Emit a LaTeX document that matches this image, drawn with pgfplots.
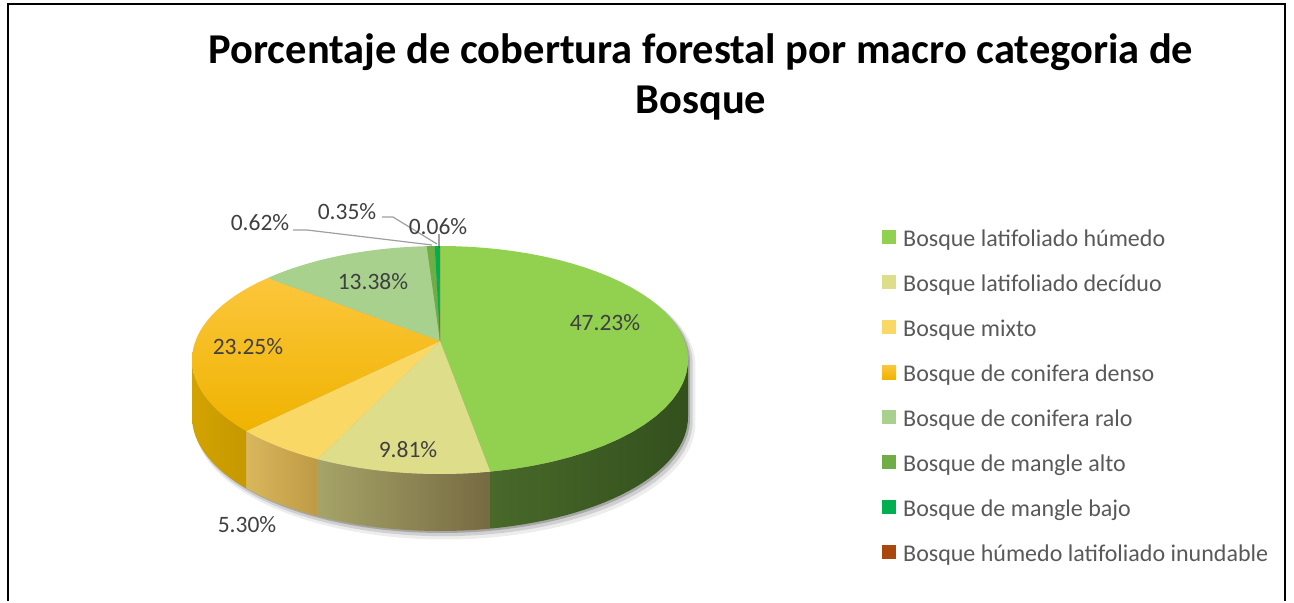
\documentclass[border=0pt]{standalone}
\usepackage{pgfplots}
\pgfplotsset{compat=1.18}
\usepackage{pgfplotstable}
\usepackage{fontspec}
\setmainfont{Carlito}

\definecolor{cA}{HTML}{92D050}
\definecolor{cB}{HTML}{DEDE8A}
\definecolor{cC}{HTML}{FAD866}
\definecolor{cD}{HTML}{FFC000}
\definecolor{cDt}{HTML}{FCC63C}
\definecolor{cDb}{HTML}{EFB300}
\definecolor{cE}{HTML}{A9D18E}
\definecolor{cF}{HTML}{70AD47}
\definecolor{cG}{HTML}{00B050}
\definecolor{cH}{HTML}{A9470F}
\definecolor{wAl}{HTML}{48692A}
\definecolor{wAr}{HTML}{33501D}
\definecolor{wBl}{HTML}{A6A468}
\definecolor{wBr}{HTML}{766A42}
\definecolor{wCl}{HTML}{D9B75C}
\definecolor{wCr}{HTML}{BF9A45}
\definecolor{wDl}{HTML}{D2A300}
\definecolor{wDr}{HTML}{C79800}
\definecolor{lbl}{HTML}{404040}
\definecolor{lgd}{HTML}{595959}

% percentages per category (legend order)
\pgfplotstableread{
val
47.23
9.81
5.30
23.25
13.38
0.62
0.35
0.06
}\piedata

% cumulative angles, starting at 12 o'clock, clockwise
\def\acc{90}
\expandafter\xdef\csname ang0\endcsname{90}
\pgfplotsforeachungrouped \i in {0,...,7}{%
  \pgfplotstablegetelem{\i}{val}\of\piedata
  \pgfmathsetmacro\nextacc{\acc-3.6*\pgfplotsretval}%
  \xdef\acc{\nextacc}%
  \pgfmathtruncatemacro\j{\i+1}%
  \expandafter\xdef\csname ang\j\endcsname{\acc}%
}
\newcommand\A[1]{\csname ang#1\endcsname}

\def\cx{440}\def\cy{360}\def\rx{248}\def\ry{114}
\def\apx{440}\def\apy{341}\def\dep{57}
% perspective warp of a rim angle
\pgfmathdeclarefunction{W}{1}{\pgfmathparse{#1+10*cos(#1)}}

% top face of a slice from angle #1 to #2
\newcommand\slicetop[3]{%
  \addplot[#3, draw=none, variable=\t, samples at={-1,0,0.025,...,1}]
   ({\t<0 ? \apx : \cx+\rx*cos(W(#1+\t*(#2-#1)))},
    {\t<0 ? \apy : \cy-\ry*sin(W(#1+\t*(#2-#1)))});
}
% front wall of a slice from angle #1 to #2
\newcommand\slicewall[3]{%
  \addplot[#3, draw=none, forget plot, variable=\t, domain=0:3, samples=91]
   ({\cx+\rx*cos(W(\t<=1 ? #1+\t*(#2-#1) : (\t<2 ? #2 : #2-(\t-2)*(#2-#1))))},
    {\cy-\ry*sin(W(\t<=1 ? #1+\t*(#2-#1) : (\t<2 ? #2 : #2-(\t-2)*(#2-#1))))
      + (\t<=1 ? 0 : (\t<2 ? (\t-1)*\dep : \dep))});
}
% shadow of the cylinder silhouette: shift x, shift y, grow, opacity
\newcommand\pieshadow[4]{%
  \addplot[forget plot, draw=none, fill=black, fill opacity=#4, variable=\t, domain=0.5:359.5, samples=180]
   ({\cx+#1+(\rx+#3)*cos(\t)}, {\cy+#2-(\ry+#3)*sin(\t)+(\t>180 ? \dep : 0)});
}

\begin{document}
\begin{tikzpicture}
\begin{axis}[
  scale only axis, width=1294pt, height=601pt,
  xmin=0, xmax=1294, ymin=0, ymax=601, y dir=reverse,
  hide axis, clip=false,
  legend image code/.code={\fill[#1] (0pt,0pt) rectangle (14pt,14pt);},
  legend cell align=left,
  legend style={at={(axis cs:882,230)}, anchor=north west, draw=none, fill=none,
    inner sep=0pt, row sep=26.4pt, text=lgd,
    font=\fontsize{24}{28}\selectfont,
    nodes={inner sep=0pt, text height=0.72em, text depth=0.2em},
    /tikz/every odd column/.append style={column sep=7pt}},
]
\path (axis cs:0,0) rectangle (axis cs:1294,601);
% soft shadow
\pieshadow{5}{6}{2.5}{0.07}
\pieshadow{3.5}{4}{1.2}{0.12}
\pieshadow{2}{2}{0}{0.2}
% walls
\slicewall{-9.85}{\A{1}}{shade, left color=wAl, right color=wAr}
\slicewall{\A{1}}{\A{2}}{shade, left color=wBl, right color=wBr}
\slicewall{\A{2}}{\A{3}}{shade, left color=wCl, right color=wCr}
\slicewall{\A{3}}{-170.15}{shade, left color=wDl, right color=wDr}
% top faces
\slicetop{\A{0}}{\A{1}}{fill=cA}
\addlegendentry{Bosque latifoliado húmedo}
\slicetop{\A{1}}{\A{2}}{fill=cB}
\addlegendentry{Bosque latifoliado decíduo}
\slicetop{\A{2}}{\A{3}}{fill=cC}
\addlegendentry{Bosque mixto}
\slicetop{\A{3}}{\A{4}}{shade, top color=cDt, bottom color=cDb}
\addlegendentry{Bosque de conifera denso}
\slicetop{\A{4}}{\A{5}}{fill=cE}
\addlegendentry{Bosque de conifera ralo}
\slicetop{\A{5}}{\A{6}}{fill=cF}
\addlegendentry{Bosque de mangle alto}
\slicetop{\A{6}}{\A{7}}{fill=cG}
\addlegendentry{Bosque de mangle bajo}
\slicetop{\A{7}}{\A{8}}{fill=cH}
\addlegendentry{Bosque húmedo latifoliado inundable}
% leader lines
\draw[gray!75, line width=1.2pt] (axis cs:293,230) -- (axis cs:307,230) -- (axis cs:432,245);
\draw[gray!75, line width=1.2pt] (axis cs:382,217) -- (axis cs:393,217) -- (axis cs:437,244);
\draw[gray!75, line width=1.2pt] (axis cs:439,234) -- (axis cs:439,246);
% data labels
\begin{scope}[every node/.style={text=lbl, font=\fontsize{23.5}{27}\selectfont, inner sep=0pt}]
\node at (axis cs:605,323) {47.23\%};
\node at (axis cs:408,450) {9.81\%};
\node at (axis cs:247,525) {5.30\%};
\node at (axis cs:248,347) {23.25\%};
\node at (axis cs:373,282) {13.38\%};
\node at (axis cs:260,223) {0.62\%};
\node at (axis cs:347,212) {0.35\%};
\node at (axis cs:438,227) {0.06\%};
\end{scope}
% title
\node[anchor=base, font=\bfseries\fontsize{42.5}{48}\selectfont] at (axis cs:701,63) {Porcentaje de cobertura forestal por macro categoria de};
\node[anchor=base, font=\bfseries\fontsize{42.5}{48}\selectfont] at (axis cs:701,113) {Bosque};
% frame
\draw[black, line width=2.5pt] (axis cs:8,601) -- (axis cs:8,4) -- (axis cs:1285,4) -- (axis cs:1285,601);
\end{axis}
\end{tikzpicture}
\end{document}
